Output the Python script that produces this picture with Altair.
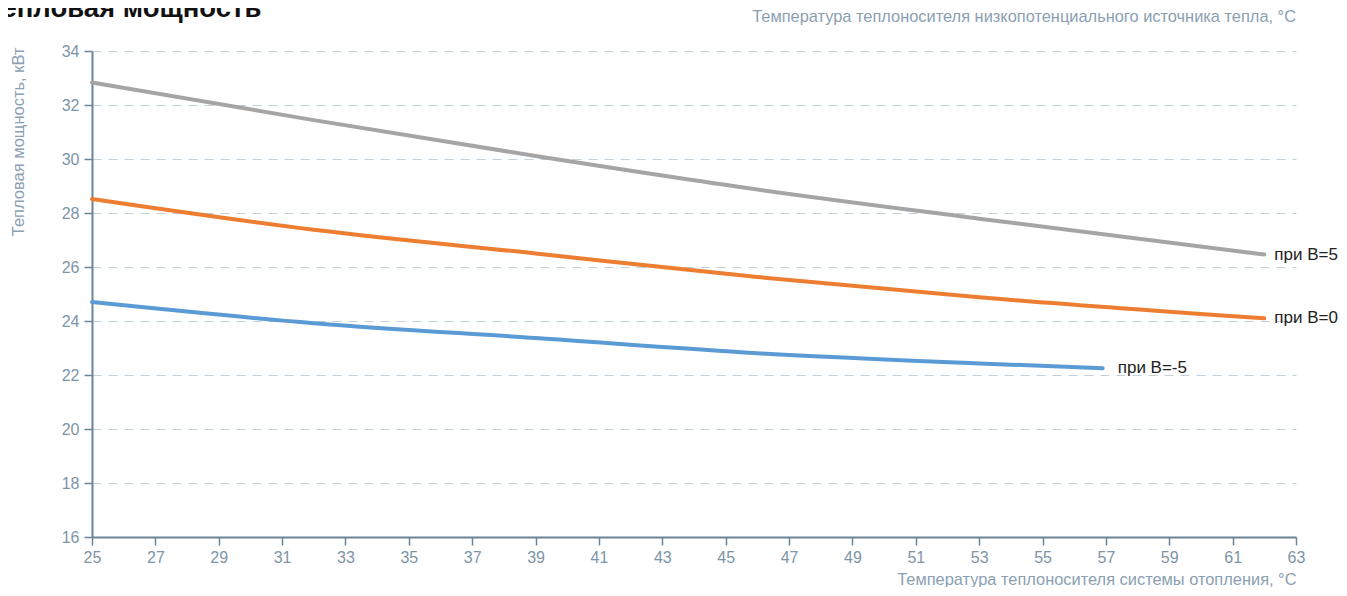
import altair as alt
import pandas as pd

# --- data ---
x_b5 = [25, 32, 39, 46, 53, 62]
y_b5 = [32.83, 31.44, 30.11, 28.87, 27.79, 26.46]
x_b0 = [25, 32, 39, 46, 53, 62]
y_b0 = [28.52, 27.38, 26.50, 25.63, 24.88, 24.10]
x_bm5 = [25, 32, 39, 46, 53, 56.9]
y_bm5 = [24.70, 23.92, 23.37, 22.81, 22.43, 22.25]

series_names = ["при B=5", "при B=0", "при B=-5"]
series_colors = ["#a5a5a5", "#ed7d31", "#5b9bd5"]
label_dx = [10, 10, 15]

x_ticks = list(range(25, 64, 2))
y_ticks = list(range(16, 35, 2))

title_text = "Тепловая мощность"
top_axis_title = "Температура теплоносителя низкопотенциального источника тепла, °C"
x_title = "Температура теплоносителя системы отопления, °C"
y_title = "Тепловая мощность, кВт"

rows = []
for name, xs, ys in zip(series_names, [x_b5, x_b0, x_bm5], [y_b5, y_b0, y_bm5]):
    for xv, yv in zip(xs, ys):
        rows.append({"series": name, "x": xv, "y": yv})
df = pd.DataFrame(rows)

end_rows = []
for name, xs, ys in zip(series_names, [x_b5, x_b0, x_bm5], [y_b5, y_b0, y_bm5]):
    end_rows.append({"series": name, "x": xs[-1], "y": ys[-1]})
df_end = pd.DataFrame(end_rows)

W, H = 1204, 486
FONT = "Liberation Sans"
AXIS_COL = "#6a8498"
LABEL_COL = "#7d95a8"
TITLE_COL = "#8ba0b2"

xscale = alt.Scale(domain=[25, 63], nice=False, zero=False)
yscale = alt.Scale(domain=[16, 34], nice=False, zero=False)

lines = alt.Chart(df).mark_line(strokeWidth=4, strokeCap="round", interpolate="monotone").encode(
    x=alt.X("x:Q", scale=xscale,
            axis=alt.Axis(values=x_ticks, title=x_title, grid=False, labelFlush=False,
                          titleAnchor="end", titleAlign="right", titleX=W, titleY=47,
                          titleBaseline="alphabetic", labelPadding=4)),
    y=alt.Y("y:Q", scale=yscale,
            axis=alt.Axis(values=y_ticks, title=y_title, grid=True, labelFlush=False,
                          titleAngle=270, titleAlign="right", titleX=-69, titleY=-4,
                          titleBaseline="alphabetic", labelPadding=5, titleFontSize=16.5)),
    color=alt.Color("series:N", scale=alt.Scale(domain=series_names, range=series_colors), legend=None),
    order=alt.Order("x:Q"),
)

labels_list = []
for name, dx in zip(series_names, label_dx):
    labels_list.append(
        alt.Chart(df_end[df_end["series"] == name]).mark_text(
            align="left", baseline="middle", fontSize=17, font=FONT, color="#222222", dx=dx
        ).encode(x=alt.X("x:Q", scale=xscale), y=alt.Y("y:Q", scale=yscale), text="series:N")
    )

title_df = pd.DataFrame({"t": [title_text]})
big_title = alt.Chart(title_df).mark_text(
    align="left", baseline="alphabetic", fontSize=27.5, fontWeight="bold", font=FONT, color="#111111"
).encode(x=alt.value(-106), y=alt.value(-34), text="t:N")

top_df = pd.DataFrame({"t": [top_axis_title]})
top_title = alt.Chart(top_df).mark_text(
    align="right", baseline="alphabetic", fontSize=16.4, font=FONT, color=TITLE_COL
).encode(x=alt.value(W), y=alt.value(-29), text="t:N")

chart = alt.layer(lines, *labels_list, big_title, top_title).properties(
    width=W, height=H,
    autosize=alt.AutoSizeParams(type="none"),
    padding={"left": 84, "top": 43, "right": 42, "bottom": 50},
).configure_view(stroke=None).configure_axis(
    domainColor=AXIS_COL, domainWidth=2, tickColor=AXIS_COL, tickSize=8, tickWidth=1.5,
    labelColor=LABEL_COL, labelFont=FONT, labelFontSize=16, titleFont=FONT,
    titleFontSize=16.4, titleColor=TITLE_COL, titleFontWeight="normal",
    gridColor="#c2d0dc", gridDash=[9, 7], gridWidth=1.2,
)

chart.save("out.html", embed_options={"renderer": "svg", "actions": False})
